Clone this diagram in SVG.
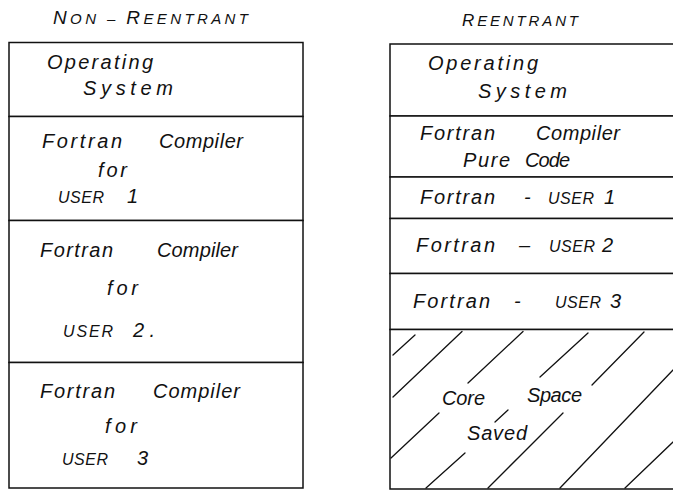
<svg xmlns="http://www.w3.org/2000/svg" width="673" height="492" viewBox="0 0 673 492">
  <style>
    .box { fill: #ffffff; stroke: #111111; stroke-width: 1.5; }
    .hatch { stroke: #111111; stroke-width: 1.3; stroke-linecap: round; fill: none; }
    .t { font-family: "Liberation Sans", "DejaVu Sans", sans-serif; font-size: 20px; fill: #111111; font-style: italic; }
    .u { font-size: 16px; }
    .cap { font-family: "Liberation Sans", "DejaVu Sans", sans-serif; fill: #111111; font-style: italic; }
  </style>
  <rect x="0" y="0" width="673" height="492" fill="#ffffff"/>

  <!-- Column headings -->
  <text class="cap" x="53" y="24" textLength="195" lengthAdjust="spacing"><tspan font-size="19">N</tspan><tspan font-size="15">ON</tspan><tspan font-size="15"> – </tspan><tspan font-size="19">R</tspan><tspan font-size="15">EENTRANT</tspan></text>
  <text class="cap" x="462" y="26" textLength="116" lengthAdjust="spacing"><tspan font-size="17">R</tspan><tspan font-size="15">EENTRANT</tspan></text>

  <!-- Non-reentrant memory layout -->
  <g id="nr-os">
    <rect class="box" x="9" y="42.5" width="294" height="74"/>
    <text class="t" x="47" y="69" textLength="106" lengthAdjust="spacing">Operating</text>
    <text class="t" x="83" y="95" textLength="90" lengthAdjust="spacing">System</text>
  </g>
  <g id="nr-user1">
    <rect class="box" x="9" y="116.5" width="294" height="104"/>
    <text class="t" x="42" y="148" textLength="80" lengthAdjust="spacing">Fortran</text>
    <text class="t" x="159" y="148" textLength="84" lengthAdjust="spacing">Compiler</text>
    <text class="t" x="98" y="177" textLength="29" lengthAdjust="spacing">for</text>
    <text class="t u" x="58" y="203" textLength="46" lengthAdjust="spacing">USER</text>
    <text class="t" x="127" y="203">1</text>
  </g>
  <g id="nr-user2">
    <rect class="box" x="9" y="220.5" width="294" height="142"/>
    <text class="t" x="40" y="257" textLength="73" lengthAdjust="spacing">Fortran</text>
    <text class="t" x="157" y="257" textLength="81" lengthAdjust="spacing">Compiler</text>
    <text class="t" x="107" y="295" textLength="31" lengthAdjust="spacing">for</text>
    <text class="t u" x="63" y="337" textLength="50" lengthAdjust="spacing">USER</text>
    <text class="t" x="133" y="337" textLength="22" lengthAdjust="spacing">2.</text>
  </g>
  <g id="nr-user3">
    <rect class="box" x="9" y="362.5" width="294" height="125.5"/>
    <text class="t" x="40" y="398" textLength="75" lengthAdjust="spacing">Fortran</text>
    <text class="t" x="153" y="398" textLength="87" lengthAdjust="spacing">Compiler</text>
    <text class="t" x="105" y="433" textLength="32" lengthAdjust="spacing">for</text>
    <text class="t u" x="62" y="465" textLength="46" lengthAdjust="spacing">USER</text>
    <text class="t" x="137" y="465">3</text>
  </g>

  <!-- Reentrant memory layout -->
  <g id="re-os">
    <rect class="box" x="390" y="44" width="300" height="72"/>
    <text class="t" x="428" y="70" textLength="110" lengthAdjust="spacing">Operating</text>
    <text class="t" x="478" y="98" textLength="89" lengthAdjust="spacing">System</text>
  </g>
  <g id="re-pure">
    <rect class="box" x="390" y="116" width="300" height="61"/>
    <text class="t" x="420" y="140" textLength="75" lengthAdjust="spacing">Fortran</text>
    <text class="t" x="536" y="140" textLength="84" lengthAdjust="spacing">Compiler</text>
    <text class="t" x="463" y="167" textLength="47" lengthAdjust="spacing">Pure</text>
    <text class="t" x="525" y="167" textLength="45" lengthAdjust="spacing">Code</text>
  </g>
  <g id="re-user1">
    <rect class="box" x="390" y="177" width="300" height="41.5"/>
    <text class="t" x="420" y="204" textLength="75" lengthAdjust="spacing">Fortran</text>
    <text class="t" x="524" y="204">-</text>
    <text class="t u" x="548" y="204" textLength="46" lengthAdjust="spacing">USER</text>
    <text class="t" x="604" y="204">1</text>
  </g>
  <g id="re-user2">
    <rect class="box" x="390" y="218.5" width="300" height="55"/>
    <text class="t" x="416" y="252" textLength="79" lengthAdjust="spacing">Fortran</text>
    <text class="t" x="519" y="252">–</text>
    <text class="t u" x="549" y="252" textLength="46" lengthAdjust="spacing">USER</text>
    <text class="t" x="602" y="252">2</text>
  </g>
  <g id="re-user3">
    <rect class="box" x="390" y="273.5" width="300" height="56"/>
    <text class="t" x="413" y="308" textLength="77" lengthAdjust="spacing">Fortran</text>
    <text class="t" x="514" y="308">-</text>
    <text class="t u" x="555" y="308" textLength="46" lengthAdjust="spacing">USER</text>
    <text class="t" x="610" y="308">3</text>
  </g>
  <g id="re-saved">
    <rect class="box" x="390" y="329.5" width="300" height="159.5"/>
    <g class="hatch">
      <line x1="393" y1="355" x2="415" y2="335"/>
      <line x1="393" y1="397" x2="462" y2="331.5"/>
      <line x1="391" y1="458" x2="439" y2="413"/>
      <line x1="468" y1="383" x2="523" y2="331.5"/>
      <line x1="426" y1="488" x2="465" y2="453"/>
      <line x1="495" y1="422" x2="508" y2="410"/>
      <line x1="540" y1="377" x2="588" y2="333"/>
      <line x1="488" y1="488" x2="563" y2="413"/>
      <line x1="592" y1="385" x2="644" y2="332"/>
      <line x1="560" y1="488" x2="673" y2="370"/>
      <line x1="625" y1="488" x2="673" y2="442"/>
    </g>
    <text class="t" x="442" y="405" textLength="43" lengthAdjust="spacing">Core</text>
    <text class="t" x="527" y="402" textLength="55" lengthAdjust="spacing">Space</text>
    <text class="t" x="467" y="440" textLength="60" lengthAdjust="spacing">Saved</text>
  </g>
</svg>
